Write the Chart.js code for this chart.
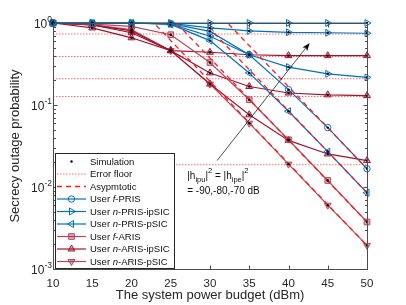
<!DOCTYPE html>
<html>
<head>
<meta charset="utf-8">
<script src="https://cdn.jsdelivr.net/npm/chart.js@4.4.1/dist/chart.umd.min.js"></script>
<style>
    html, body { margin: 0; padding: 0; background: #fff; }
    #wrap { width: 406px; height: 305px; }
</style>
</head>
<body>
<div id="wrap"><canvas id="outageChart" width="406" height="305"></canvas></div>
<script>
const power = [10, 15, 20, 25, 30, 35, 40, 45, 50];

// PRIS curves (blue)
const fPRIS       = [1.0, 1.0, 1.0, 0.98, 0.79, 0.41, 0.154, 0.053, 0.0167];
const nPRISpSIC   = [1.0, 1.0, 1.0, 0.96, 0.61, 0.246, 0.084, 0.027, 0.0085];
const nPRISipSIC90 = [1.0, 1.0, 1.0, 0.97, 0.69, 0.41, 0.29, 0.24, 0.217];
const nPRISipSIC80 = [1.0, 1.0, 1.0, 0.99, 0.87, 0.80, 0.77, 0.76, 0.75];
const nPRISipSIC70 = [1.0, 1.0, 1.0, 1.0, 1.0, 1.0, 1.0, 1.0, 1.0];

// ARIS curves (red)
const fARIS       = [1.0, 0.97, 0.91, 0.72, 0.33, 0.116, 0.0377, 0.012, 0.00374];
const nARISpSIC   = [1.0, 0.95, 0.83, 0.46, 0.18, 0.06, 0.019, 0.006, 0.00194];
const nARISipSIC90 = [1.0, 0.95, 0.80, 0.46, 0.18, 0.076, 0.037, 0.0253, 0.021];
const nARISipSIC80 = [1.0, 0.95, 0.76, 0.46, 0.246, 0.168, 0.14, 0.133, 0.13];
const nARISipSIC70 = [1.0, 0.87, 0.66, 0.46, 0.44, 0.41, 0.40, 0.40, 0.40];

// asymptotic lines (null = off the top of the plot)
const asymFPRIS = [null, null, null, null, 1.67, 0.53, 0.167, 0.053, 0.0167];
const asymNPRIS = [null, null, null, 2.7, 0.85, 0.27, 0.085, 0.027, 0.0085];
const asymFARIS = [null, null, null, 1.18, 0.374, 0.118, 0.0374, 0.0118, 0.00374];
const asymNARIS = [null, null, 1.94, 0.61, 0.194, 0.061, 0.0194, 0.0061, 0.00194];

// error floors of the ipSIC curves
const floorPRIS = [1.0, 0.734, 0.209];
const floorARIS = [0.39, 0.127, 0.0187];

const yDecades = [0, -1, -2, -3];
const xTicks = [10, 15, 20, 25, 30, 35, 40, 45, 50];

const BLUE = '#0072BD';
const RED = '#A2142F';
const RED_LIGHT = '#B8455E';
const RED_FILL = 'rgba(162,20,47,0.35)';
const FONT = '"Liberation Sans", Arial, Helvetica, sans-serif';

function toPoints(arr) {
    const pts = [];
    arr.forEach((v, i) => { if (v !== null) pts.push({ x: power[i], y: v }); });
    return pts;
}

function curve(label, arr, color, style, rotation, filled) {
    return {
        label: label,
        data: toPoints(arr),
        borderColor: color,
        borderWidth: 1.2,
        pointStyle: style,
        pointRotation: rotation,
        pointRadius: style === 'circle' ? 3.2 : 4,
        pointBorderColor: color,
        pointBackgroundColor: filled ? RED_FILL : 'rgba(0,0,0,0)',
        pointBorderWidth: 1,
        tension: 0,
        clip: false,
        sim: true
    };
}

function asym(arr) {
    return {
        label: 'asym',
        data: toPoints(arr),
        borderColor: '#ff1a1a',
        borderWidth: 1.3,
        borderDash: [5, 4],
        pointRadius: 0,
        tension: 0
    };
}

function floorLine(v) {
    return {
        label: 'floor',
        data: [{ x: 10, y: v }, { x: 50, y: v }],
        borderColor: '#ff6b6b',
        borderWidth: 1,
        borderDash: [1.5, 1.5],
        pointRadius: 0
    };
}

const datasets = [
    asym(asymFPRIS), asym(asymNPRIS), asym(asymFARIS), asym(asymNARIS),
    curve('fPRIS', fPRIS, BLUE, 'circle', 0, false),
    curve('nPRISipSIC90', nPRISipSIC90, BLUE, 'triangle', 90, false),
    curve('nPRISipSIC80', nPRISipSIC80, BLUE, 'triangle', 90, false),
    curve('nPRISipSIC70', nPRISipSIC70, BLUE, 'triangle', 90, false),
    curve('nPRISpSIC', nPRISpSIC, BLUE, 'triangle', 270, false),
    curve('fARIS', fARIS, RED_LIGHT, 'rect', 0, true),
    curve('nARISipSIC90', nARISipSIC90, RED, 'triangle', 0, true),
    curve('nARISipSIC80', nARISipSIC80, RED, 'triangle', 0, true),
    curve('nARISipSIC70', nARISipSIC70, RED, 'triangle', 0, true),
    curve('nARISpSIC', nARISpSIC, RED_LIGHT, 'triangle', 180, true)
];
floorPRIS.concat(floorARIS).forEach(v => datasets.push(floorLine(v)));

// legend rows: text parts [text, italic]
const legendRows = [
    { kind: 'sim', parts: [['Simulation', false]] },
    { kind: 'floor', parts: [['Error floor', false]] },
    { kind: 'asym', parts: [['Asypmtotic', false]] },
    { kind: 'fPRIS', parts: [['User ', false], ['f', true], ['-PRIS', false]] },
    { kind: 'nPRISipSIC80', parts: [['User ', false], ['n', true], ['-PRIS-ipSIC', false]] },
    { kind: 'nPRISpSIC', parts: [['User ', false], ['n', true], ['-PRIS-pSIC', false]] },
    { kind: 'fARIS', parts: [['User ', false], ['f', true], ['-ARIS', false]] },
    { kind: 'nARISipSIC80', parts: [['User ', false], ['n', true], ['-ARIS-ipSIC', false]] },
    { kind: 'nARISpSIC', parts: [['User ', false], ['n', true], ['-ARIS-pSIC', false]] }
];

function drawMarker(ctx, ds, x, y) {
    ctx.save();
    ctx.strokeStyle = ds.pointBorderColor;
    ctx.fillStyle = ds.pointBackgroundColor;
    ctx.lineWidth = ds.pointBorderWidth;
    Chart.helpers.drawPoint(ctx, {
        pointStyle: ds.pointStyle,
        radius: ds.pointRadius,
        rotation: ds.pointRotation,
        borderWidth: ds.pointBorderWidth
    }, x, y);
    ctx.restore();
}

const decorPlugin = {
    id: 'decor',
    afterDatasetsDraw(chart) {
        const ctx = chart.ctx;
        const { left, right, top, bottom } = chart.chartArea;
        const xs = chart.scales.x;
        const ys = chart.scales.y;
        ctx.save();

        // simulation dots on each marker
        ctx.fillStyle = '#000';
        chart.data.datasets.forEach((ds, i) => {
            if (!ds.sim) return;
            chart.getDatasetMeta(i).data.forEach(p => {
                ctx.beginPath();
                ctx.arc(p.x, p.y, 1.2, 0, Math.PI * 2);
                ctx.fill();
            });
        });

        // axes box and inward ticks
        ctx.strokeStyle = '#4d4d4d';
        ctx.lineWidth = 1;
        const L = Math.round(left) + 0.5, R = Math.round(right) + 0.5;
        const T = Math.round(top) + 0.5, B = Math.round(bottom) + 0.5;
        ctx.strokeRect(L, T, R - L, B - T);
        ctx.beginPath();
        xTicks.forEach(v => {
            const px = Math.round(xs.getPixelForValue(v)) + 0.5;
            ctx.moveTo(px, B); ctx.lineTo(px, B - 4);
            ctx.moveTo(px, T); ctx.lineTo(px, T + 4);
        });
        yDecades.forEach(e => {
            const py = Math.round(ys.getPixelForValue(Math.pow(10, e))) + 0.5;
            ctx.moveTo(L, py); ctx.lineTo(L + 4, py);
            ctx.moveTo(R, py); ctx.lineTo(R - 4, py);
            if (e > -3) {
                for (let m = 2; m <= 9; m++) {
                    const pm = Math.round(ys.getPixelForValue(m * Math.pow(10, e - 1))) + 0.5;
                    ctx.moveTo(L, pm); ctx.lineTo(L + 2.5, pm);
                    ctx.moveTo(R, pm); ctx.lineTo(R - 2.5, pm);
                }
            }
        });
        ctx.stroke();

        // y tick labels 10^n
        ctx.fillStyle = '#262626';
        ctx.textBaseline = 'middle';
        ctx.textAlign = 'left';
        yDecades.forEach(e => {
            const py = ys.getPixelForValue(Math.pow(10, e));
            const sup = e === 0 ? '0' : '-' + Math.abs(e);
            ctx.font = '8.5px ' + FONT;
            const supW = ctx.measureText(sup).width;
            ctx.font = '12px ' + FONT;
            const baseW = ctx.measureText('10').width;
            const xEnd = 52;
            ctx.fillText('10', xEnd - supW - baseW, py + 2);
            ctx.font = '8.5px ' + FONT;
            ctx.fillText(sup, xEnd - supW, py - 3);
        });

        // annotation arrow
        const ax1 = xs.getPixelForValue(30.9), ay1 = ys.getPixelForValue(0.021);
        const ax2 = xs.getPixelForValue(42.7), ay2 = ys.getPixelForValue(0.57);
        const ang = Math.atan2(ay2 - ay1, ax2 - ax1);
        ctx.strokeStyle = '#222';
        ctx.lineWidth = 0.8;
        ctx.beginPath();
        ctx.moveTo(ax1, ay1);
        ctx.lineTo(ax2 - 6 * Math.cos(ang), ay2 - 6 * Math.sin(ang));
        ctx.stroke();
        ctx.fillStyle = '#000';
        ctx.beginPath();
        ctx.moveTo(ax2, ay2);
        ctx.lineTo(ax2 - 8 * Math.cos(ang) + 3 * Math.sin(ang), ay2 - 8 * Math.sin(ang) - 3 * Math.cos(ang));
        ctx.lineTo(ax2 - 6 * Math.cos(ang), ay2 - 6 * Math.sin(ang));
        ctx.lineTo(ax2 - 8 * Math.cos(ang) - 3 * Math.sin(ang), ay2 - 8 * Math.sin(ang) + 3 * Math.cos(ang));
        ctx.closePath();
        ctx.fill();

        // annotation text
        ctx.fillStyle = '#111';
        ctx.textBaseline = 'middle';
        const tx = xs.getPixelForValue(27.1);
        const ty = ys.getPixelForValue(0.0134);
        const pieces = [
            ['|h', 0, 10], ['ipu', 3, 7.5], ['|', 0, 10], ['2', -6, 7.5],
            [' = |h', 0, 10], ['ipe', 3, 7.5], ['|', 0, 10], ['2', -6, 7.5]
        ];
        let cx = tx;
        pieces.forEach(([t, dy, sz]) => {
            ctx.font = sz + 'px ' + FONT;
            ctx.fillText(t, cx, ty + dy);
            cx += ctx.measureText(t).width;
        });
        ctx.font = '10px ' + FONT;
        ctx.fillText('= -90,-80,-70 dB', tx, ty + 15);

        // legend
        const lx = 55.5, lyTop = 153.5, lw = 119, lh = 115;
        ctx.fillStyle = '#fff';
        ctx.fillRect(lx, lyTop, lw, lh);
        ctx.strokeStyle = '#262626';
        ctx.lineWidth = 1;
        ctx.strokeRect(lx, lyTop, lw, lh);
        const byLabel = {};
        chart.data.datasets.forEach(ds => { byLabel[ds.label] = ds; });
        legendRows.forEach((row, i) => {
            const y = 161.5 + i * 12.5;
            const x0 = 57, x1 = 86, xm = 71.5;
            ctx.save();
            if (row.kind === 'sim') {
                ctx.fillStyle = '#000';
                ctx.beginPath();
                ctx.arc(xm, y, 1.2, 0, Math.PI * 2);
                ctx.fill();
            } else if (row.kind === 'floor') {
                ctx.strokeStyle = '#ff6b6b';
                ctx.setLineDash([1.5, 1.5]);
                ctx.beginPath(); ctx.moveTo(x0, y); ctx.lineTo(x1, y); ctx.stroke();
            } else if (row.kind === 'asym') {
                ctx.strokeStyle = '#ff1a1a';
                ctx.lineWidth = 1.3;
                ctx.setLineDash([5, 4]);
                ctx.beginPath(); ctx.moveTo(x0, y); ctx.lineTo(x1, y); ctx.stroke();
            } else {
                const ds = byLabel[row.kind];
                ctx.strokeStyle = ds.borderColor;
                ctx.lineWidth = ds.borderWidth;
                ctx.beginPath(); ctx.moveTo(x0, y); ctx.lineTo(x1, y); ctx.stroke();
                drawMarker(ctx, ds, xm, y);
            }
            ctx.restore();
            let tx2 = 90;
            ctx.fillStyle = '#111';
            row.parts.forEach(([t, it]) => {
                ctx.font = (it ? 'italic ' : '') + '9.5px ' + FONT;
                ctx.fillText(t, tx2, y + 0.5);
                tx2 += ctx.measureText(t).width;
            });
        });

        ctx.restore();
    }
};

function renderChart() {
    const canvas = document.getElementById('outageChart');
    if (!canvas) return;
    Chart.defaults.font.family = FONT;
    new Chart(canvas, {
        type: 'line',
        data: { datasets: datasets },
        options: {
            responsive: false,
            animation: false,
            devicePixelRatio: 1,
            layout: { padding: { left: 0, right: 39, top: 23, bottom: 0 } },
            plugins: {
                legend: { display: false },
                tooltip: { enabled: false }
            },
            scales: {
                x: {
                    type: 'linear',
                    min: 10,
                    max: 50,
                    afterFit: (scale) => { scale.height = 36; },
                    grid: { display: false, drawTicks: false },
                    border: { display: false },
                    ticks: { stepSize: 5, autoSkip: false, padding: 8, color: '#262626', font: { size: 11.5 } },
                    title: {
                        display: true,
                        text: 'The system power budget (dBm)',
                        color: '#262626',
                        font: { size: 13 },
                        padding: { top: 0, bottom: 2 }
                    }
                },
                y: {
                    type: 'logarithmic',
                    min: 0.001,
                    max: 1,
                    afterFit: (scale) => { scale.width = 53; },
                    grid: { display: false, drawTicks: false },
                    border: { display: false },
                    ticks: { display: false },
                    title: {
                        display: true,
                        text: 'Secrecy outage probability',
                        color: '#262626',
                        font: { size: 13 },
                        padding: { top: 8, bottom: 0 }
                    }
                }
            }
        },
        plugins: [decorPlugin]
    });
}

document.addEventListener('DOMContentLoaded', renderChart);
</script>
</body>
</html>
